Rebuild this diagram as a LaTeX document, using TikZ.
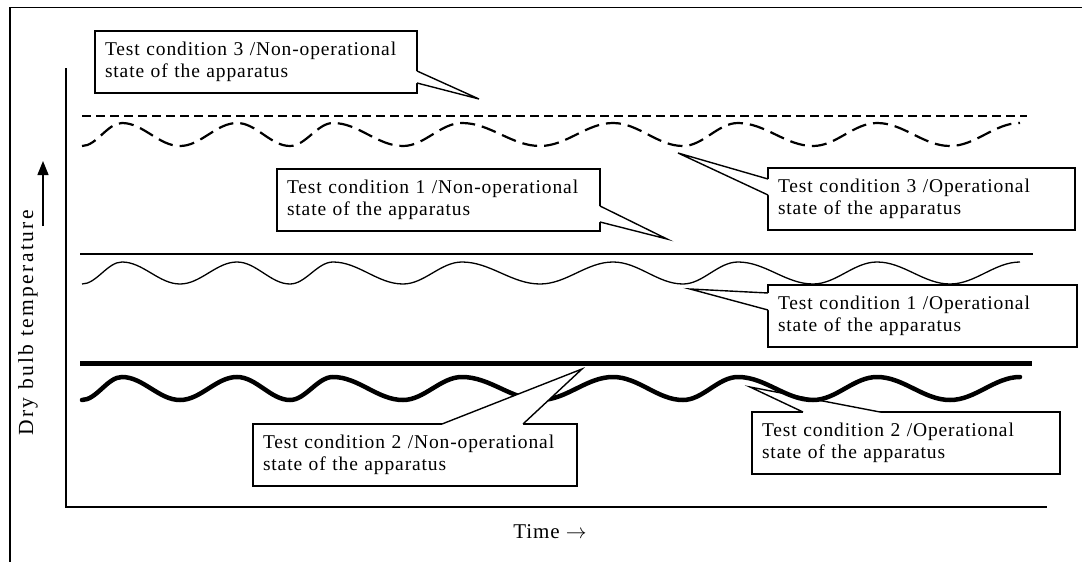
\documentclass[tikz,border=0pt]{standalone}
\usepackage{fontspec}
\setmainfont{Liberation Serif}
\newfontfamily\calfont[LetterSpace=4.5]{Liberation Serif}
\newfontfamily\axfont[LetterSpace=11]{Liberation Serif}
\usetikzlibrary{arrows.meta,calc}

\tikzset{
  callbox/.style={draw, line width=1.4pt, fill=white, anchor=north west,
    outer sep=0pt, minimum height=62pt, inner xsep=10pt, inner ysep=0pt,
    align=left, font=\calfont\fontsize{19.5}{22}\selectfont},
  ptr/.style={line width=1.4pt, line join=miter},
  axisline/.style={line width=1.5pt},
  dashref/.style={line width=2.2pt, dash pattern=on 9pt off 5pt},
  dashwave/.style={line width=2.2pt, dash pattern=on 15pt off 7pt},
  thinline/.style={line width=1.3pt},
  thickline/.style={line width=5pt},
  thickwave/.style={line width=4.5pt, line cap=round},
}

% white wedge from a box edge (#1,#3) to a tip (#2); #4 pushes the fill inside the box
\newcommand\calloutwedge[4]{%
  \fill[white] ($(#1)+#4$) -- (#1) -- (#2) -- (#3) -- ($(#3)+#4$) -- cycle;
  \draw[ptr] (#1) -- (#2) -- (#3);
}

% wavy temperature trace: #1 style, #2 crest level, #3 trough level
\newcommand\ripple[3]{%
  \draw[#1] (82,#3)
    \foreach \xx [remember=\xx as \px (initially 82), count=\ii] in
      {122,180,237,290,333,403,462,540,613,683,738,813,877,950,1020}
    { cos ({(\px+\xx)/2},{(#2+#3)/2})
      sin (\xx,{#3+(#2-#3)*mod(\ii,2)}) };
}

\begin{document}
\begin{tikzpicture}[x=1pt, y=-1pt]
  \useasboundingbox (0,0) rectangle (1082,562);
  \clip (0,0) rectangle (1082,562);

  % outer frame
  \draw[line width=1.6pt] (1082,7.5) -- (10,7.5) -- (10,562);

  % axes
  \coordinate (ytop) at (66,68);
  \coordinate (orig) at (66,507);
  \coordinate (xend) at (1047,507);
  \draw[axisline] (ytop) -- (orig) -- (xend);

  % axis labels
  \node[rotate=90, font=\axfont\fontsize{21.5}{24}\selectfont] (ylab) at (28,323) {Dry bulb temperature};
  \coordinate (yarr-s) at (43,226);
  \coordinate (yarr-e) at (43,161);
  \draw[line width=1.3pt, -{Triangle[length=14pt,width=11pt]}] (yarr-s) -- (yarr-e);
  \node[font=\calfont\fontsize{21}{24}\selectfont] (xlab) at (550,532) {Time $\rightarrow$};

  % reference levels (non-operational)
  \coordinate (l3a) at (82,116);  \coordinate (l3b) at (1027,116);
  \coordinate (l1a) at (80,254);  \coordinate (l1b) at (1033,254);
  \coordinate (l2a) at (80,363);  \coordinate (l2b) at (1032,363);
  \draw[dashref] (l3a) -- (l3b);
  \draw[thinline] (l1a) -- (l1b);
  \draw[thickline] (l2a) -- (l2b);

  % callout: condition 2, operational (drawn under its trace)
  \node[callbox, text width=288pt] (c2o) at (752,412)
    {Test condition 2 /Operational\\state of the apparatus};
  \coordinate (c2o-a) at ([xshift=51pt]c2o.north west);
  \coordinate (c2o-b) at ([xshift=128pt]c2o.north west);
  \coordinate (c2o-tip) at (750,387);
  \calloutwedge{c2o-a}{c2o-tip}{c2o-b}{(0,1.5)}

  % operational traces
  \ripple{dashwave}{123}{146}
  \ripple{thinline}{262}{284}
  \ripple{thickwave}{377}{400}

  % callout: condition 3, non-operational
  \node[callbox, text width=302pt] (c3n) at (95,31)
    {Test condition 3 /Non-operational\\state of the apparatus};
  \coordinate (c3n-a) at ([yshift=-40pt]c3n.north east);
  \coordinate (c3n-b) at ([yshift=-52pt]c3n.north east);
  \coordinate (c3n-tip) at (479,99);
  \calloutwedge{c3n-a}{c3n-tip}{c3n-b}{(-1.5,0)}

  % callout: condition 3, operational
  \node[callbox, text width=287pt] (c3o) at (768,168)
    {Test condition 3 /Operational\\state of the apparatus};
  \coordinate (c3o-a) at ([yshift=-11pt]c3o.north west);
  \coordinate (c3o-b) at ([yshift=-27pt]c3o.north west);
  \coordinate (c3o-tip) at (678,153);
  \calloutwedge{c3o-a}{c3o-tip}{c3o-b}{(1.5,0)}

  % callout: condition 1, non-operational
  \node[callbox, text width=303pt] (c1n) at (277,169)
    {Test condition 1 /Non-operational\\state of the apparatus};
  \coordinate (c1n-a) at ([yshift=-37pt]c1n.north east);
  \coordinate (c1n-b) at ([yshift=-53pt]c1n.north east);
  \coordinate (c1n-tip) at (667,239);
  \calloutwedge{c1n-a}{c1n-tip}{c1n-b}{(-1.5,0)}

  % callout: condition 1, operational
  \node[callbox, text width=289pt] (c1o) at (768,285)
    {Test condition 1 /Operational\\state of the apparatus};
  \coordinate (c1o-a) at ([yshift=-8pt]c1o.north west);
  \coordinate (c1o-b) at ([yshift=-25pt]c1o.north west);
  \coordinate (c1o-tip) at (690,289);
  \calloutwedge{c1o-a}{c1o-tip}{c1o-b}{(1.5,0)}

  % callout: condition 2, non-operational
  \node[callbox, text width=304pt] (c2n) at (253,424)
    {Test condition 2 /Non-operational\\state of the apparatus};
  \coordinate (c2n-a) at ([xshift=189pt]c2n.north west);
  \coordinate (c2n-b) at ([xshift=270pt]c2n.north west);
  \coordinate (c2n-tip) at (582,369);
  \calloutwedge{c2n-a}{c2n-tip}{c2n-b}{(0,1.5)}
\end{tikzpicture}
\end{document}
